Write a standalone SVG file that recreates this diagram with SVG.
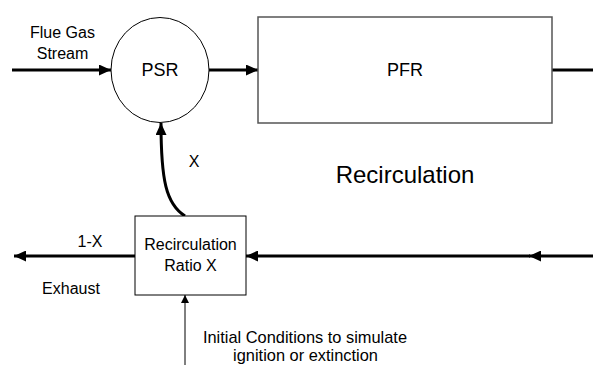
<svg xmlns="http://www.w3.org/2000/svg" width="593" height="365" viewBox="0 0 593 365">
<defs>
<style>
text{font-family:"Liberation Sans",Arial,sans-serif;fill:#000}
.t16{font-size:16px}
.t18{font-size:18px}
.t24{font-size:24px}
.shape{fill:#fff;stroke:#000;stroke-width:1}
.box{fill:#fff;stroke:#555;stroke-width:1.5}
.thick{fill:none;stroke:#000;stroke-width:3}
.thin{fill:none;stroke:#000;stroke-width:1}
</style>
<marker id="ah" viewBox="0 0 12 11" refX="12" refY="5.5" markerWidth="12" markerHeight="11" markerUnits="userSpaceOnUse" orient="auto">
<path d="M0,0 L12,5.5 L0,11 Z" fill="#000"/>
</marker>
<marker id="ahs" viewBox="0 0 8 8" refX="8" refY="4" markerWidth="8" markerHeight="8" markerUnits="userSpaceOnUse" orient="auto">
<path d="M0,0 L8,4 L0,8 Z" fill="#000"/>
</marker>
</defs>
<rect width="593" height="365" fill="#fff"/>
<g id="connectors">
<line class="thick" x1="12" y1="70" x2="111" y2="70" marker-end="url(#ah)"/>
<line class="thick" x1="209" y1="70" x2="258" y2="70" marker-end="url(#ah)"/>
<line class="thick" x1="552" y1="70" x2="593" y2="70"/>
<line class="thick" x1="593" y1="256" x2="529" y2="256" marker-end="url(#ah)"/>
<line class="thick" x1="530" y1="256" x2="246" y2="256" marker-end="url(#ah)"/>
<line class="thick" x1="135" y1="256" x2="14" y2="256" marker-end="url(#ah)"/>
<path class="thick" d="M185,216 C166,204 161,180 161,123" marker-end="url(#ah)"/>
<line class="thin" x1="185" y1="365" x2="185" y2="295" marker-end="url(#ahs)"/>
</g>
<g id="psr">
<ellipse class="shape" cx="160" cy="70" rx="49" ry="52.5"/>
<text class="t18" x="160" y="76" text-anchor="middle">PSR</text>
</g>
<g id="pfr">
<rect class="box" x="258" y="17" width="294" height="106"/>
<text class="t18" x="405" y="76" text-anchor="middle">PFR</text>
</g>
<g id="recirc-box">
<rect class="shape" x="135" y="216" width="111" height="79"/>
<text class="t16" x="190.5" y="250" text-anchor="middle">Recirculation</text>
<text class="t16" x="190.5" y="270.5" text-anchor="middle">Ratio X</text>
</g>
<g id="labels">
<text class="t16" x="62.5" y="38" text-anchor="middle">Flue Gas</text>
<text class="t16" x="62.5" y="59" text-anchor="middle">Stream</text>
<text class="t24" x="405" y="183" text-anchor="middle">Recirculation</text>
<text class="t16" x="194" y="167" text-anchor="middle">X</text>
<text class="t16" x="90" y="247" text-anchor="middle">1-X</text>
<text class="t16" x="71" y="294" text-anchor="middle">Exhaust</text>
<text class="t16" x="305" y="343" text-anchor="middle" style="font-size:16.4px">Initial Conditions to simulate</text>
<text class="t16" x="305.5" y="361" text-anchor="middle" style="font-size:16.4px">ignition or extinction</text>
</g>
</svg>
